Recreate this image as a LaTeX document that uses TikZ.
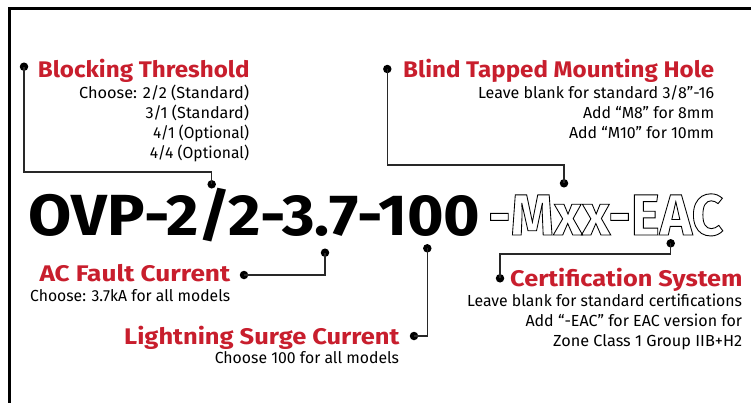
\documentclass[tikz,border=0pt]{standalone}
\usepackage{fontspec}
\setmainfont{Fira Sans}
\newfontfamily\hfont{Fira Sans}[UprightFont=* Bold]
\definecolor{hred}{RGB}{200,30,45}
\definecolor{lgray}{RGB}{40,40,40}
\newlength\fitlen
\newcommand\fitx[2]{\settowidth\fitlen{#2}\pgfmathsetmacro\fitratio{#1/\fitlen}\scalebox{\fitratio}[1]{#2}}
\newcommand\outl[1]{\special{pdf:literal direct 1 Tr 0.9 w}#1\special{pdf:literal direct 0 Tr}}
\tikzset{
  head/.style={inner sep=0pt, text=hred, font=\hfont\fontsize{22.6}{24}\selectfont},
  body/.style={inner sep=0pt, text=black, font=\fontsize{16}{18}\selectfont},
  big/.style={inner sep=0pt, text=black, font=\hfont\fontsize{58}{60}\selectfont},
  conn/.style={draw=lgray, line width=1.3pt},
  dot/.style={circle, fill=black, inner sep=0pt, minimum size=8.5pt},
}
\begin{document}
\begin{tikzpicture}[x=1pt,y=-1pt]
\useasboundingbox (0,0) rectangle (751,402);
\begin{scope}
\clip (0,0) rectangle (751,402);
\draw[line width=3pt, miter limit=10] (9.5,410) -- (9.5,8.5) -- (760,8.5);
\end{scope}

% big code
\node[big, anchor=base west] (code) at (28.3,235) {\fitx{452pt}{OVP-2/2-3.7-100}};
\node[big, anchor=base west] (opt) at (488,235) {\fitx{235pt}{\outl{-Mxx-EAC}}};

% Blocking Threshold
\node[head, anchor=base west] (bt) at (37.7,77.3) {\fitx{211.6pt}{Blocking Threshold}};
\node[body, anchor=base east] (bt1) at (249.3,98) {\fitx{170pt}{Choose: 2/2 (Standard)}};
\node[body, anchor=base east] (bt2) at (249.3,118) {\fitx{103.6pt}{3/1 (Standard)}};
\node[body, anchor=base east] (bt3) at (249.3,138) {\fitx{96pt}{4/1 (Optional)}};
\node[body, anchor=base east] (bt4) at (249.3,158) {\fitx{99.3pt}{4/4 (Optional)}};
\node[dot] (btd) at (24,66.7) {};
\node[dot] (btc) at (211.7,184.3) {};
\coordinate (btk1) at (24,172);
\coordinate (btk2) at (211.7,172);
\draw[conn] (btd.center) -- (btk1) -- (btk2) -- (btc.center);

% Blind Tapped Mounting Hole
\node[head, anchor=base west] (bm) at (403,77.7) {\fitx{311pt}{Blind Tapped Mounting Hole}};
\node[body, anchor=base east] (bm1) at (714.3,98) {\fitx{236pt}{Leave blank for standard 3/8”-16}};
\node[body, anchor=base east] (bm2) at (714.3,118) {\fitx{131pt}{Add “M8” for 8mm}};
\node[body, anchor=base east] (bm3) at (714.3,138) {\fitx{145pt}{Add “M10” for 10mm}};
\node[dot] (bmd) at (387.3,69) {};
\node[dot] (bmc) at (564,183.3) {};
\coordinate (bmk1) at (387.3,165);
\coordinate (bmk2) at (564,165);
\draw[conn] (bmd.center) -- (bmk1) -- (bmk2) -- (bmc.center);

% AC Fault Current
\node[head, anchor=base west] (ac) at (39.3,281.7) {\fitx{190.7pt}{AC Fault Current}};
\node[body, anchor=base west] (ac1) at (30,301.7) {\fitx{200pt}{Choose: 3.7kA for all models}};
\node[dot] (acd) at (244,275) {};
\node[dot] (acc) at (325,252.7) {};
\coordinate (ack) at (325,275);
\draw[conn] (acd.center) -- (ack) -- (acc.center);

% Lightning Surge Current
\node[head, anchor=base west] (ls) at (124,344) {\fitx{275.3pt}{Lightning Surge Current}};
\node[body, anchor=base east] (ls1) at (399.3,363.3) {\fitx{184.3pt}{Choose 100 for all models}};
\node[dot] (lsd) at (414,336) {};
\node[dot] (lsc) at (427.3,248.3) {};
\coordinate (lsk) at (427.3,336);
\draw[conn] (lsd.center) -- (lsk) -- (lsc.center);

% Certification System
\node[head, anchor=base west] (cs) at (510,286.7) {\fitx{232.3pt}{Certification System}};
\node[body, anchor=base east] (cs1) at (742.3,306.7) {\fitx{275pt}{Leave blank for standard certifications}};
\node[body, anchor=base east] (cs2) at (742.3,326.7) {\fitx{216.6pt}{Add “-EAC” for EAC version for}};
\node[body, anchor=base east] (cs3) at (742.3,346.7) {\fitx{189pt}{Zone Class 1 Group IIB+H2}};
\node[dot] (csd) at (500,278.3) {};
\node[dot] (csc) at (670.7,243.3) {};
\coordinate (csk1) at (500,254);
\coordinate (csk2) at (670.7,254);
\draw[conn] (csd.center) -- (csk1) -- (csk2) -- (csc.center);
\end{tikzpicture}
\end{document}
